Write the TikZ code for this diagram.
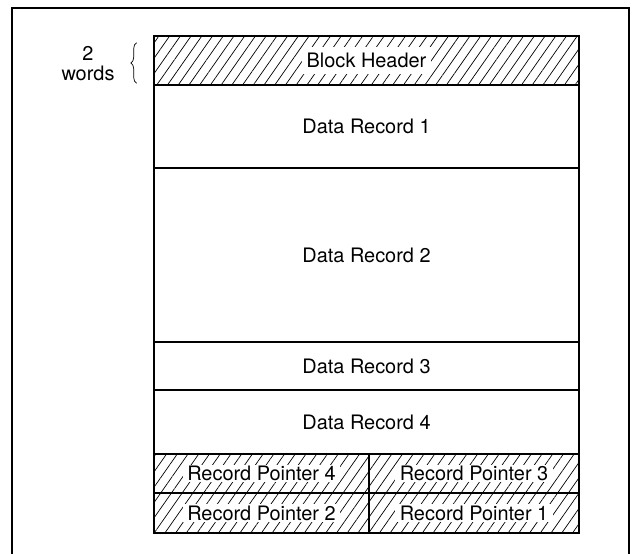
\documentclass[tikz,border=0pt]{standalone}
\usepackage{fontspec}
\setmainfont{TeX Gyre Heros}
\usetikzlibrary{patterns.meta,decorations.pathreplacing}

\begin{document}
\begin{tikzpicture}[x=0.03cm, y=-0.03cm,
	every node/.style = {font=\fontsize{17}{17}\selectfont},
	cell/.style = {draw, line width=1.3pt, inner sep=0pt, minimum width=12.75cm},
	hatch/.style = {pattern={Lines[angle=55, distance=7.5pt, line width=0.6pt]}},
	blank/.style = {fill=white, inner xsep=4pt, inner ysep=1pt}]
	\useasboundingbox (0,0) rectangle (637,554);
	% frame, open at the bottom
	\draw[line width=1.4pt] (12,554) -- (12,8) -- (629,8) -- (629,554);

	\node[cell, hatch, minimum height=1.47cm, label={[blank, inner ysep=5pt]center:Block Header}] (header) at (366.5,60.5){};
	\node[cell, minimum height=2.49cm] (rec1) at (366.5,126.5){Data Record 1};
	\node[cell, minimum height=5.22cm] (rec2) at (366.5,255){Data Record 2};
	\node[cell, minimum height=1.44cm] (rec3) at (366.5,366){Data Record 3};
	\node[cell, minimum height=1.92cm] (rec4) at (366.5,422){Data Record 4};
	\node[cell, hatch, minimum width=6.45cm, minimum height=1.17cm, label={[blank]center:Record Pointer 4}] (ptr4) at (261.5,473.5){};
	\node[cell, hatch, minimum width=6.3cm, minimum height=1.17cm, label={[blank]center:Record Pointer 3}] (ptr3) at (474,473.5){};
	\node[cell, hatch, minimum width=6.45cm, minimum height=1.2cm, label={[blank]center:Record Pointer 2}] (ptr2) at (261.5,513){};
	\node[cell, hatch, minimum width=6.3cm, minimum height=1.2cm, label={[blank]center:Record Pointer 1}] (ptr1) at (474,513){};

	\node[align=center] (size) at (88,64){2\\words};
	\draw[decorate, decoration={brace, amplitude=5pt}, line width=0.6pt]
		([shift={(-17,-2)}]header.south west) -- ([shift={(-17,7)}]header.north west);
\end{tikzpicture}
\end{document}
